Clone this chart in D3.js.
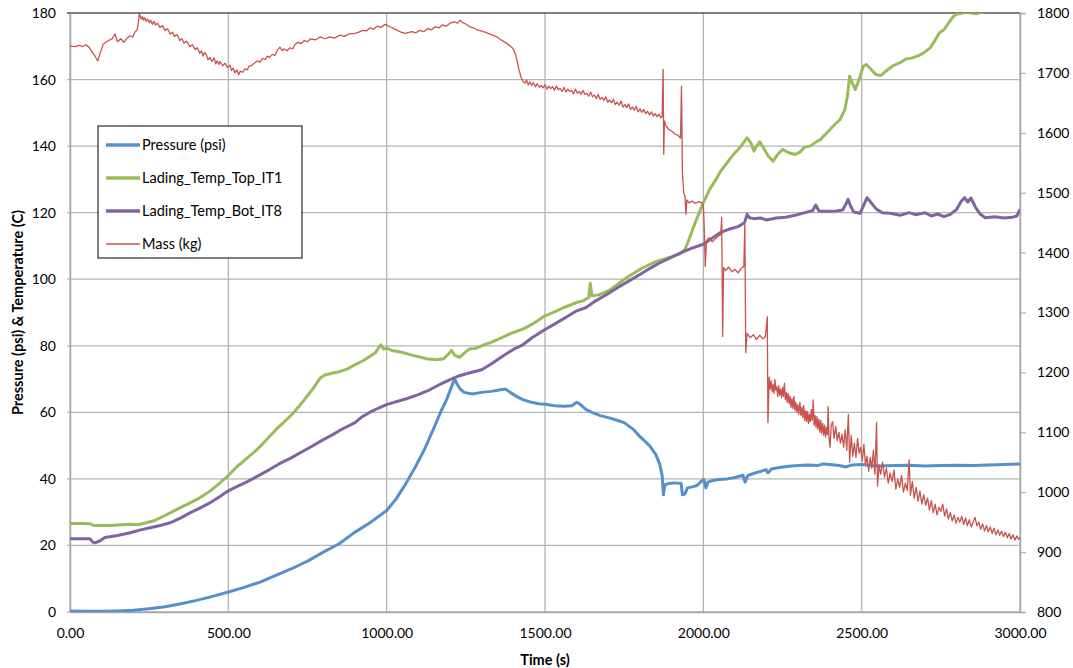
<!DOCTYPE html>
<html>
<head>
<meta charset="utf-8">
<script src="https://cdnjs.cloudflare.com/ajax/libs/d3/7.8.5/d3.min.js"></script>
<style>
  body { margin: 0; background: #fff; }
  svg { font-family: Lato, "Open Sans", sans-serif; }
</style>
</head>
<body>
<svg id="chart"></svg>
<script>
// series values [time (s), value]
let pressureData = [[0,0.3],[50,0.2],[100,0.2],[150,0.3],[200,0.5],[250,1.0],[300,1.6],[350,2.5],[400,3.5],[450,4.7],[500,6.0],[550,7.4],[600,9.0],[650,11],[700,13],[750,15.3],[800,18],[850,20.5],[900,24],[950,27],[1000,30.5],[1030,34],[1060,38.5],[1090,43.5],[1120,49],[1150,55.5],[1170,60],[1190,64],[1200,66.5],[1210,69],[1215,70],[1222,68.5],[1232,67],[1245,66],[1270,65.5],[1300,66],[1330,66.3],[1360,66.8],[1375,67],[1390,66],[1410,64.8],[1430,63.8],[1450,63.2],[1480,62.6],[1500,62.4],[1530,62],[1560,61.8],[1585,62],[1600,63],[1610,62.5],[1630,60.8],[1650,59.9],[1675,59],[1700,58.4],[1725,57.7],[1750,56.9],[1780,54.8],[1800,52.7],[1830,50],[1850,47.3],[1862,44.5],[1870,41],[1874,35.2],[1878,38.2],[1890,38.6],[1910,38.8],[1930,38.6],[1934,35.2],[1942,35.5],[1950,37.3],[1965,37.6],[1980,38],[1995,39.4],[2002,39.8],[2008,37.3],[2015,39.1],[2030,39.5],[2050,39.8],[2075,40],[2100,40.4],[2125,41.1],[2132,39.0],[2140,41],[2160,41.7],[2180,42.2],[2198,42.8],[2204,41.8],[2215,43],[2240,43.4],[2270,43.8],[2300,44],[2330,44.2],[2360,44],[2380,44.5],[2400,44.3],[2430,44.0],[2450,43.6],[2470,44.2],[2500,44.3],[2530,44],[2560,43.9],[2600,44],[2650,44.1],[2700,43.9],[2750,44],[2800,44.1],[2850,44],[2900,44.2],[2950,44.3],[3000,44.5]]

let topTempData = [[0,26.6],[40,26.6],[65,26.5],[75,26.0],[100,26.0],[130,26.0],[160,26.2],[190,26.4],[215,26.2],[240,26.8],[265,27.4],[284,28.3],[300,29],[316,29.8],[347,31.3],[379,32.8],[410,34.3],[442,36.3],[470,38.5],[500,41],[525,43.5],[550,45.5],[575,47.5],[600,49.7],[625,52.2],[650,54.8],[675,57],[700,59.3],[725,62],[750,65],[770,67.5],[790,70.3],[805,71.2],[830,71.8],[850,72.2],[875,73],[900,74.3],[925,75.5],[950,77],[965,78],[975,79.5],[982,80.3],[990,79],[1000,79.3],[1020,78.5],[1050,78],[1080,77.2],[1110,76.5],[1130,76],[1160,75.8],[1180,76.1],[1195,77.5],[1205,78.6],[1215,77.2],[1230,76.5],[1245,77.8],[1260,79],[1280,79.2],[1300,80],[1330,81],[1360,82.3],[1400,84],[1430,85],[1460,86.5],[1500,89],[1530,90.2],[1560,91.5],[1600,93],[1620,93.5],[1638,94.5],[1643,98.8],[1648,95],[1670,95.3],[1700,96.5],[1730,98.5],[1750,100],[1775,101.5],[1800,103],[1825,104.2],[1850,105.3],[1875,106],[1900,106.8],[1925,107.6],[1942,109],[1955,112],[1970,116],[1985,119.5],[2000,123],[2020,127],[2040,130],[2055,132.5],[2075,135],[2095,137.5],[2115,139.5],[2138,142.5],[2150,141],[2160,138.5],[2168,140],[2178,141.3],[2190,139.5],[2205,137],[2220,135.5],[2235,137.5],[2250,139],[2270,138],[2290,137.5],[2305,138.2],[2320,139.7],[2337,140],[2355,141.2],[2370,142],[2385,143.5],[2400,145],[2415,146.5],[2432,148],[2447,151],[2455,155],[2462,161],[2470,159],[2480,157],[2492,160],[2505,164],[2515,164.5],[2530,163],[2545,161.5],[2560,161.2],[2580,162.8],[2600,164.2],[2620,165],[2640,166.2],[2660,166.5],[2680,167.2],[2700,168.3],[2716,169.5],[2730,171.5],[2745,174],[2760,175],[2779,177.6],[2790,179],[2800,179.6],[2830,180.2],[2860,179.8],[2890,180.4],[2910,182],[3000,186]]

let botTempData = [[0,22],[30,22],[63,22],[72,21],[79,20.8],[95,21.4],[110,22.4],[126,22.6],[150,23],[190,23.8],[220,24.6],[253,25.3],[285,26],[316,26.8],[350,28.3],[379,29.8],[410,31.2],[442,32.8],[470,34.5],[500,36.4],[530,37.8],[560,39.2],[600,41.2],[630,42.8],[660,44.5],[700,46.4],[730,48],[760,49.6],[800,51.8],[830,53.3],[860,55],[900,56.9],[920,58.5],[950,60.2],[975,61.3],[1000,62.3],[1030,63.2],[1060,64],[1100,65.3],[1130,66.5],[1160,68],[1200,69.8],[1230,71],[1260,71.8],[1300,72.8],[1330,74.5],[1360,76.5],[1400,78.9],[1430,80.3],[1460,82.5],[1500,84.9],[1530,86.5],[1560,88.2],[1600,90.5],[1630,91.5],[1660,93.5],[1700,95.7],[1730,97.5],[1760,99.2],[1800,101.4],[1830,103.2],[1860,104.8],[1900,106.6],[1930,108],[1960,109.2],[2000,110.5],[2030,112.5],[2053,114],[2080,115],[2110,115.8],[2130,117],[2138,119.5],[2145,118.5],[2160,118.2],[2180,118.4],[2200,117.8],[2230,118.4],[2260,118.6],[2290,119.2],[2320,120],[2345,120.6],[2355,122.3],[2365,120.5],[2390,120.4],[2420,120.5],[2440,120.8],[2450,122.5],[2457,124],[2465,122],[2475,120.2],[2495,119.8],[2510,123],[2517,124.5],[2530,123],[2545,121.2],[2565,120],[2590,119.8],[2621,119.2],[2650,120],[2670,119.4],[2700,120],[2720,119],[2740,119.6],[2760,118.8],[2780,119.5],[2800,121],[2815,123.5],[2825,124.5],[2835,123.2],[2845,124.4],[2860,121.5],[2875,119.5],[2890,118.5],[2920,118.8],[2950,118.4],[2975,118.6],[2990,119],[3000,121]]

let massData = [[0,1745],[15,1744],[30,1746],[40,1744],[50,1747],[60,1743],[70,1735],[80,1727],[88,1720],[95,1733],[105,1748],[115,1752],[125,1755],[133,1757],[142,1765],[150,1752],[160,1757],[170,1751],[180,1758],[190,1762],[198,1760],[205,1768],[212,1772],[216,1785],[219,1799],[225,1790],[229,1794],[232,1788],[236,1792],[240,1786],[245,1790],[250,1784],[255,1788],[260,1781],[265,1786],[270,1780],[277,1783],[284,1776],[292,1779],[300,1771],[308,1774],[316,1765],[323,1768],[330,1761],[338,1764],[347,1754],[353,1757],[360,1750],[368,1753],[379,1744],[387,1747],[395,1739],[402,1742],[410,1733],[415,1737],[420,1728],[425,1734],[430,1731],[436,1722],[442,1726],[448,1719],[455,1725],[460,1715],[465,1720],[470,1714],[474,1719],[482,1712],[490,1716],[497,1709],[505,1713],[510,1704],[515,1708],[521,1700],[527,1705],[532,1697],[538,1703],[545,1701],[553,1707],[560,1705],[565,1711],[575,1713],[584,1717],[592,1720],[600,1718],[608,1724],[616,1722],[623,1728],[630,1726],[639,1731],[647,1729],[655,1738],[663,1743],[670,1737],[675,1740],[685,1737],[695,1742],[703,1740],[710,1747],[720,1751],[730,1749],[740,1754],[750,1752],[760,1757],[775,1755],[790,1760],[805,1757],[820,1760],[835,1758],[853,1763],[866,1761],[880,1765],[900,1766],[912,1768],[925,1771],[936,1770],[947,1775],[958,1773],[970,1778],[982,1776],[995,1781],[1010,1777],[1026,1773],[1045,1768],[1058,1766],[1080,1769],[1092,1767],[1105,1771],[1118,1769],[1130,1774],[1142,1772],[1153,1777],[1165,1775],[1175,1780],[1188,1778],[1200,1783],[1215,1785],[1224,1783],[1232,1788],[1240,1784],[1248,1782],[1263,1777],[1275,1775],[1285,1772],[1298,1770],[1311,1768],[1330,1764],[1349,1760],[1362,1755],[1374,1751],[1388,1746],[1400,1740],[1407,1731],[1412,1720],[1418,1705],[1424,1693],[1430,1686],[1437,1683],[1442,1688],[1447,1680],[1452,1685],[1458,1679],[1463,1684],[1470,1677],[1476,1682],[1482,1676],[1488,1679],[1494,1675],[1500,1680],[1506,1673],[1512,1678],[1518,1674],[1524,1677],[1530,1671],[1536,1678],[1542,1672],[1548,1674],[1554,1669],[1560,1676],[1566,1668],[1572,1673],[1578,1669],[1584,1671],[1590,1665],[1596,1673],[1602,1666],[1608,1669],[1614,1664],[1620,1671],[1626,1664],[1632,1666],[1638,1661],[1644,1668],[1650,1660],[1656,1663],[1662,1657],[1668,1664],[1674,1656],[1680,1659],[1686,1654],[1692,1660],[1698,1651],[1704,1655],[1710,1650],[1716,1656],[1722,1647],[1728,1651],[1734,1646],[1740,1653],[1746,1643],[1752,1647],[1758,1642],[1764,1648],[1770,1639],[1776,1643],[1782,1638],[1788,1644],[1794,1635],[1800,1640],[1806,1634],[1812,1639],[1818,1632],[1824,1636],[1830,1630],[1836,1635],[1842,1628],[1848,1632],[1854,1627],[1860,1631],[1866,1625],[1870,1628],[1873,1706],[1875,1564],[1877,1620],[1882,1612],[1890,1606],[1900,1603],[1910,1598],[1920,1596],[1928,1591],[1931,1678],[1934,1534],[1938,1500],[1942,1494],[1945,1464],[1948,1488],[1955,1483],[1965,1486],[1975,1482],[1985,1485],[1995,1483],[2000,1480],[2003,1440],[2006,1377],[2010,1420],[2018,1425],[2028,1418],[2038,1423],[2048,1428],[2055,1430],[2058,1459],[2061,1260],[2064,1375],[2070,1370],[2080,1376],[2090,1368],[2100,1372],[2110,1366],[2120,1374],[2128,1377],[2131,1447],[2134,1233],[2138,1265],[2148,1258],[2158,1263],[2168,1255],[2178,1262],[2188,1256],[2196,1260],[2202,1293],[2204,1116],[2208,1192],[2211,1172],[2214,1186],[2217,1168],[2220,1180],[2223,1165],[2226,1188],[2229,1170],[2232,1176],[2235,1160],[2238,1178],[2241,1162],[2244,1172],[2247,1158],[2250,1175],[2253,1160],[2256,1182],[2259,1155],[2262,1166],[2265,1150],[2268,1165],[2271,1148],[2274,1160],[2277,1142],[2280,1156],[2283,1140],[2286,1160],[2289,1137],[2292,1150],[2295,1134],[2298,1146],[2301,1130],[2305,1150],[2308,1128],[2311,1142],[2314,1125],[2317,1145],[2320,1120],[2323,1136],[2326,1118],[2329,1135],[2332,1115],[2335,1130],[2338,1118],[2341,1138],[2344,1120],[2347,1154],[2350,1112],[2353,1128],[2356,1108],[2359,1126],[2362,1105],[2365,1122],[2368,1100],[2371,1120],[2374,1098],[2377,1115],[2380,1095],[2383,1112],[2386,1092],[2389,1108],[2392,1096],[2394,1143],[2397,1090],[2400,1075],[2404,1112],[2408,1118],[2413,1090],[2418,1110],[2423,1086],[2428,1100],[2433,1082],[2438,1097],[2443,1075],[2448,1104],[2453,1070],[2458,1130],[2462,1050],[2467,1095],[2472,1060],[2477,1082],[2482,1058],[2487,1090],[2492,1065],[2497,1075],[2502,1052],[2507,1080],[2512,1046],[2517,1060],[2522,1035],[2527,1058],[2532,1040],[2537,1070],[2542,1030],[2547,1116],[2550,1010],[2555,1045],[2560,1030],[2566,1050],[2572,1025],[2578,1040],[2584,1015],[2590,1032],[2596,1018],[2602,1037],[2608,1005],[2614,1022],[2620,1008],[2626,1028],[2632,1000],[2638,1015],[2644,1003],[2650,1054],[2654,995],[2660,1018],[2666,990],[2672,1008],[2678,985],[2684,1002],[2690,980],[2696,996],[2702,978],[2708,990],[2714,970],[2720,986],[2726,966],[2732,980],[2738,962],[2744,975],[2750,968],[2756,980],[2762,960],[2768,972],[2774,955],[2780,966],[2786,952],[2792,962],[2798,948],[2804,958],[2810,950],[2816,960],[2822,946],[2828,957],[2834,944],[2840,954],[2846,942],[2852,950],[2858,958],[2864,944],[2870,950],[2876,938],[2882,947],[2888,935],[2894,944],[2900,934],[2906,942],[2912,931],[2918,940],[2924,929],[2930,937],[2936,928],[2942,935],[2948,926],[2954,933],[2960,924],[2966,931],[2972,922],[2978,929],[2984,920],[2990,927],[2996,921],[3000,925]]

let xTicks = [0,500,1000,1500,2000,2500,3000]
let leftTicks = [0,20,40,60,80,100,120,140,160,180]
let rightTicks = [800,900,1000,1100,1200,1300,1400,1500,1600,1700,1800]

let seriesNames = ['Pressure (psi)','Lading_Temp_Top_IT1','Lading_Temp_Bot_IT8','Mass (kg)']
let seriesColors = ['#5590cc','#9bbb59','#8064a2','#c8524c']

let width = 1073
let height = 668
let plotLeft = 70, plotRight = 1020, plotTop = 13, plotBottom = 612

let svg = d3.select('#chart').attr('width', width).attr('height', height)

let xScale = d3.scaleLinear().domain([0,3000]).range([plotLeft,plotRight])
let yLeft = d3.scaleLinear().domain([0,180]).range([plotBottom,plotTop])
let yRight = d3.scaleLinear().domain([800,1800]).range([plotBottom,plotTop])

// grid
svg.append('g')
  .selectAll('line')
  .data(xTicks)
  .enter().append('line')
  .attr('x1', d => xScale(d)).attr('x2', d => xScale(d))
  .attr('y1', plotTop).attr('y2', plotBottom)
  .attr('stroke', '#b4b4b4').attr('stroke-width', 1.3)

svg.append('g')
  .selectAll('line')
  .data(leftTicks)
  .enter().append('line')
  .attr('x1', plotLeft - 3).attr('x2', plotRight)
  .attr('y1', d => yLeft(d)).attr('y2', d => yLeft(d))
  .attr('stroke', d => d == 180 ? '#555' : '#b4b4b4').attr('stroke-width', 1.3)

// axes
let xAxis = d3.axisBottom(xScale).tickValues(xTicks).tickSize(0).tickPadding(16)
  .tickFormat(d3.format('.2f'))
svg.append('g')
  .attr('transform', 'translate(0,' + plotBottom + ')')
  .call(xAxis)
  .call(g => g.select('.domain').attr('stroke', '#a6a6a6').attr('stroke-width', 1.5))

let leftAxis = d3.axisLeft(yLeft).tickValues(leftTicks).tickSize(0).tickPadding(14)
svg.append('g')
  .attr('transform', 'translate(' + plotLeft + ',0)')
  .call(leftAxis)
  .call(g => g.select('.domain').attr('stroke', '#a6a6a6').attr('stroke-width', 1.5))

let rightAxis = d3.axisRight(yRight).tickValues(rightTicks).tickSize(6).tickPadding(11)
  .tickFormat(d3.format('d'))
svg.append('g')
  .attr('transform', 'translate(' + plotRight + ',0)')
  .call(rightAxis)
  .call(g => g.select('.domain').attr('stroke', '#a6a6a6').attr('stroke-width', 1.5))
  .call(g => g.selectAll('.tick line').attr('stroke', '#a6a6a6'))

svg.selectAll('.tick text').attr('font-size', 14).attr('fill', '#000')
  .attr('font-family', 'Lato, "Open Sans", sans-serif')

// axis titles
svg.append('text')
  .attr('x', 545).attr('y', 665)
  .attr('text-anchor', 'middle')
  .attr('font-weight', 'bold').attr('font-size', 14.5)
  .text('Time (s)')

svg.append('text')
  .attr('transform', 'translate(23,' + ((plotTop + plotBottom) / 2) + ') rotate(-90)')
  .attr('text-anchor', 'middle')
  .attr('font-weight', 'bold').attr('font-size', 14.5)
  .text('Pressure (psi) & Temperature (C)')

// lines
svg.append('clipPath').attr('id', 'plot')
  .append('rect').attr('x', plotLeft).attr('y', plotTop)
  .attr('width', plotRight - plotLeft).attr('height', plotBottom - plotTop)

let leftLine = d3.line().x(d => xScale(d[0])).y(d => yLeft(d[1]))
let rightLine = d3.line().x(d => xScale(d[0])).y(d => yRight(d[1]))

let lines = svg.append('g').attr('clip-path', 'url(#plot)')
let drawLine = (data, gen, color, w) => {
  lines.append('path')
    .datum(data)
    .attr('d', gen)
    .attr('fill', 'none')
    .attr('stroke', color)
    .attr('stroke-width', w)
    .attr('stroke-linejoin', 'round')
}
drawLine(pressureData, leftLine, seriesColors[0], 3)
drawLine(topTempData, leftLine, seriesColors[1], 3)
drawLine(botTempData, leftLine, seriesColors[2], 3)
drawLine(massData, rightLine, seriesColors[3], 1.3)

// legend
let legend = svg.append('g')
legend.append('rect')
  .attr('x', 98).attr('y', 126).attr('width', 204).attr('height', 132)
  .attr('fill', '#fff').attr('stroke', '#000').attr('stroke-width', 1)

let legendRows = legend.selectAll('g.row')
  .data(seriesNames)
  .enter().append('g')
  .attr('transform', (d, i) => 'translate(0,' + (145 + i * 33) + ')')

legendRows.append('line')
  .attr('x1', 106).attr('x2', 140)
  .attr('stroke', (d, i) => seriesColors[i])
  .attr('stroke-width', (d, i) => i == 3 ? 1.5 : 3.5)

legendRows.append('text')
  .attr('x', 142).attr('dy', '0.35em')
  .attr('font-size', 14.5)
  .text(d => d)
</script>
</body>
</html>
